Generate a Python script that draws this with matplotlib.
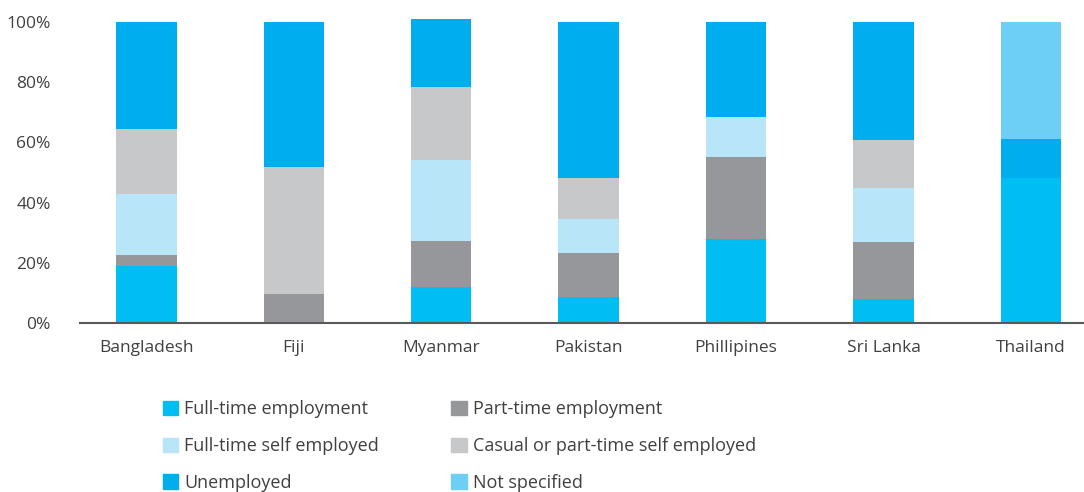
import numpy as np
import matplotlib.pyplot as plt
from matplotlib.patches import Patch

plt.rcParams['font.family'] = ['Open Sans', 'DejaVu Sans']

# Countries and share of respondents (%) per employment status
countries = ["Bangladesh", "Fiji", "Myanmar", "Pakistan", "Phillipines", "Sri Lanka", "Thailand"]
full_time = [19.1, 0, 11.8, 8.7, 28.0, 8.0, 48.3]
part_time = [3.6, 9.8, 15.6, 14.6, 27.0, 19.0, 0]
ft_self = [20.0, 0, 26.6, 11.4, 13.3, 18.0, 0]
casual_self = [21.7, 42.0, 24.3, 13.6, 0, 15.7, 0]
unemployed = [35.6, 48.2, 22.7, 51.7, 31.7, 39.3, 12.7]
not_specified = [0, 0, 0, 0, 0, 0, 39.0]

series = [
    ("Full-time employment", full_time, "#00BEF2"),
    ("Part-time employment", part_time, "#96979B"),
    ("Full-time self employed", ft_self, "#B9E5F9"),
    ("Casual or part-time self employed", casual_self, "#C7C8CA"),
    ("Unemployed", unemployed, "#00ADEE"),
    ("Not specified", not_specified, "#6DCFF6"),
]

fig = plt.figure(figsize=(10.84, 4.92), dpi=100)
ax = fig.add_axes([0.0738, 0.3435, 0.9262, 0.624])

x = np.arange(len(countries))
bottom = np.zeros(len(countries))
for name, vals, col in series:
    vals = np.array(vals) / 100
    ax.bar(x, vals, width=0.41, bottom=bottom, color=col, label=name)
    bottom += vals

ax.set_xlim(-0.45, 6.36)
ax.set_ylim(0, 1.02)
ax.set_yticks(np.arange(0, 1.01, 0.2))
ax.set_yticklabels([f"{int(round(v * 100))}%" for v in np.arange(0, 1.01, 0.2)])
ax.set_xticks(x)
ax.set_xticklabels(countries)
ax.tick_params(length=0, labelsize=12.5, labelcolor="#404040")
ax.tick_params(axis="x", pad=12)
ax.tick_params(axis="y", pad=21)
for s in ["top", "right", "left"]:
    ax.spines[s].set_visible(False)
ax.spines["bottom"].set_color("#595959")
ax.spines["bottom"].set_linewidth(1.5)

# legend: column-wise order so rows read FT / PT, FTSE / Casual, Unemp / NS
order = [0, 2, 4, 1, 3, 5]
handles = [Patch(color=series[i][2], label=series[i][0]) for i in order]
fig.legend(handles=handles, ncol=2, loc="upper left", bbox_to_anchor=(0.135, 0.22),
           frameon=False, fontsize=13, handlelength=0.85, handleheight=0.85,
           handletextpad=0.35, columnspacing=4.0, labelspacing=1.05,
           labelcolor="#404040")

fig.savefig("out.png", dpi=100)
